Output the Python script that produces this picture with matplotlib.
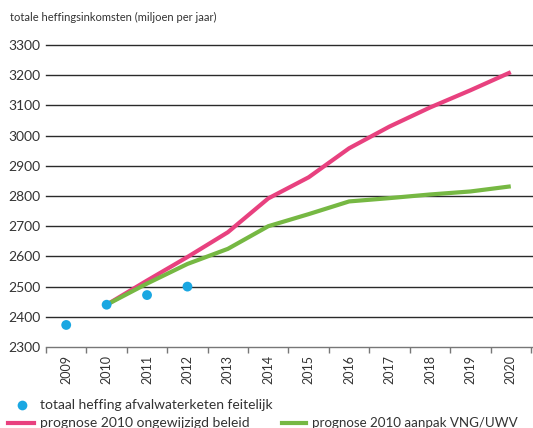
import numpy as np
import matplotlib
matplotlib.use("Agg")
import matplotlib.pyplot as plt

plt.rcParams['font.family'] = ['Lato', 'DejaVu Sans']

years = [2009, 2010, 2011, 2012, 2013, 2014, 2015, 2016, 2017, 2018, 2019, 2020]
actual_years = [2009, 2010, 2011, 2012]
actual = [2373, 2440, 2472, 2500]
prog_years = [2010, 2011, 2012, 2013, 2014, 2015, 2016, 2017, 2018, 2019, 2020]
prog_unchanged = [2440, 2520, 2598, 2680, 2792, 2862, 2958, 3030, 3093, 3150, 3210]
prog_vng = [2440, 2510, 2575, 2625, 2700, 2740, 2782, 2793, 2805, 2815, 2832]
yticks = [2300, 2400, 2500, 2600, 2700, 2800, 2900, 3000, 3100, 3200, 3300]

pink = '#e8417f'
green = '#76b843'
blue = '#1aa7e2'
txt = '#333333'

fig = plt.figure(figsize=(5.33, 4.28), dpi=100)
ax = fig.add_axes([46 / 533, 1 - 347 / 428, 487 / 533, 302 / 428])

for v in yticks[1:]:
    ax.axhline(v, color='#2a2a2a', lw=1.0, zorder=1, clip_on=False)

ax.plot(prog_years, prog_unchanged, color=pink, lw=3, zorder=3, solid_capstyle='butt')
ax.plot(prog_years, prog_vng, color=green, lw=3, zorder=3, solid_capstyle='butt')
ax.scatter(actual_years, actual, s=50, color=blue, zorder=4, edgecolors='none')

ax.set_xlim(2008.5, 2020.55)
ax.set_ylim(2300, 3300)
for s in ['top', 'right', 'left']:
    ax.spines[s].set_visible(False)
ax.spines['bottom'].set_color('#777777')
ax.spines['bottom'].set_linewidth(1.0)

ax.set_yticks(yticks)
ax.set_yticklabels([str(v) for v in yticks], fontsize=10, color=txt)
ax.tick_params(axis='y', length=0, pad=4)

ax.set_xticks(years)
ax.set_xticklabels([str(y) for y in years], rotation=90, fontsize=9, color=txt)
ax.tick_params(axis='x', length=0, pad=6)
ax.set_xticks(np.arange(2008.5, 2021, 1), minor=True)
ax.tick_params(axis='x', which='minor', length=4, color='#777777', width=1)

fig.text(10 / 533, 1 - 17 / 428, 'totale heffingsinkomsten (miljoen per jaar)',
         fontsize=8, color=txt, va='center', ha='left')

# legend
ly1 = 1 - 405 / 428
ly2 = 1 - 423 / 428
fig.add_artist(plt.Line2D([22 / 533], [ly1], marker='o', markersize=7, color=blue, lw=0,
                          markeredgewidth=0, transform=fig.transFigure))
fig.text(40 / 533, ly1, 'totaal heffing afvalwaterketen feitelijk', fontsize=10, color=txt,
         va='center', ha='left')
fig.add_artist(plt.Line2D([8 / 533, 34 / 533], [ly2, ly2], color=pink, lw=3,
                          transform=fig.transFigure))
fig.text(40 / 533, ly2, 'prognose 2010 ongewijzigd beleid', fontsize=10, color=txt,
         va='center', ha='left')
fig.add_artist(plt.Line2D([282 / 533, 306 / 533], [ly2, ly2], color=green, lw=3,
                          transform=fig.transFigure))
fig.text(312 / 533, ly2, 'prognose 2010 aanpak VNG/UWV', fontsize=9.6, color=txt,
         va='center', ha='left')

fig.savefig('out.png', dpi=100)
